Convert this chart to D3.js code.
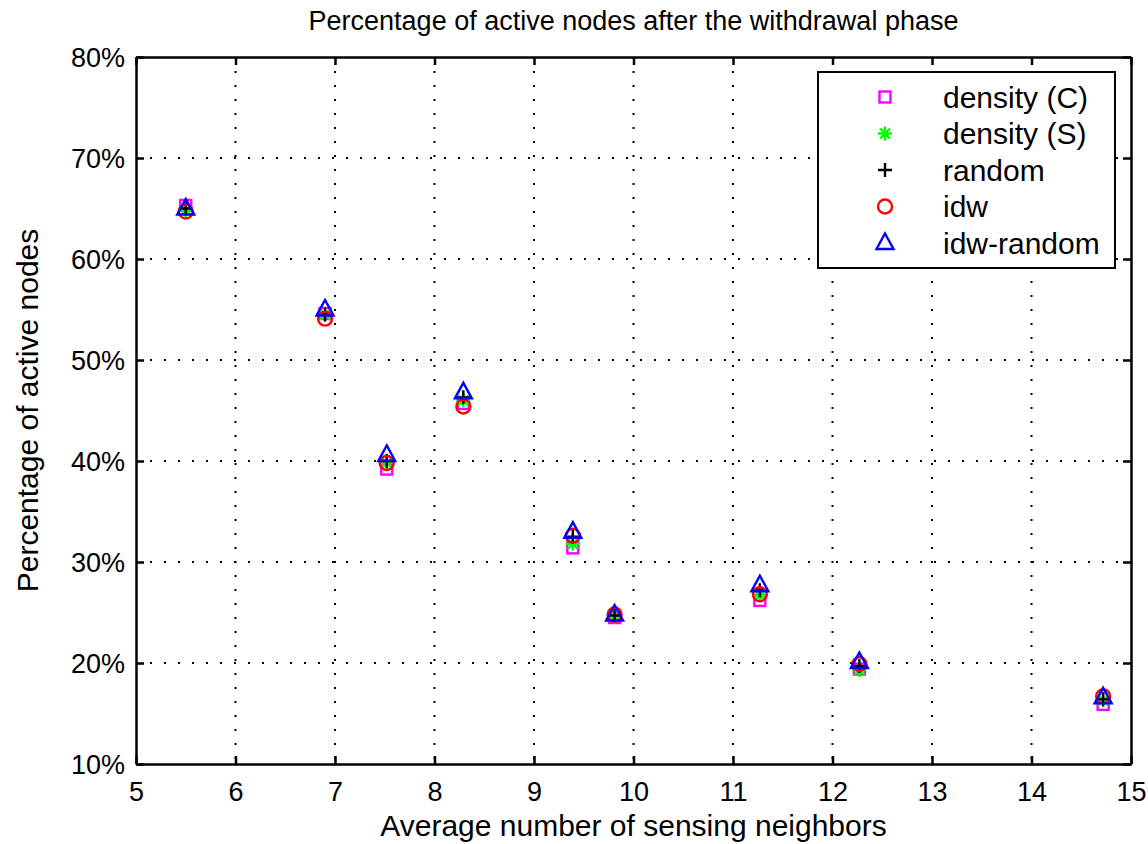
<!DOCTYPE html>
<html><head><meta charset="utf-8">
<script src="https://cdn.jsdelivr.net/npm/d3@7"></script>
<style>body{margin:0;background:#fff}svg{display:block}text{font-family:"Liberation Sans",Arial,sans-serif}</style>
</head><body><svg id="c" width="1148" height="844"></svg>
<script>
const xValues = [5.5, 6.9, 7.52, 8.29, 9.39, 9.81, 11.27, 12.27, 14.72];
const densityC = [65.3, 54.6, 39.2, 45.7, 31.4, 24.5, 26.2, 19.4, 15.9];
const densityS = [64.8, 54.5, 39.8, 46.0, 31.8, 24.6, 26.7, 19.3, 16.3];
const randomV  = [65.0, 54.5, 40.0, 46.3, 32.5, 24.7, 27.2, 19.7, 16.4];
const idw      = [64.7, 54.1, 39.8, 45.4, 32.6, 24.8, 26.8, 19.9, 16.7];
const idwRandom= [65.0, 55.0, 40.6, 46.8, 33.0, 24.8, 27.7, 20.1, 16.6];
const seriesNames = ["density (C)", "density (S)", "random", "idw", "idw-random"];
const xTicks = [5,6,7,8,9,10,11,12,13,14,15];
const yTicks = [10,20,30,40,50,60,70,80];
const title = "Percentage of active nodes after the withdrawal phase";
const xLabel = "Average number of sensing neighbors";
const yLabel = "Percentage of active nodes";

const series = [
  {name: seriesNames[0], values: densityC, shape: "square", color: "#ff00ff"},
  {name: seriesNames[1], values: densityS, shape: "asterisk", color: "#00ff00"},
  {name: seriesNames[2], values: randomV, shape: "plus", color: "#000000"},
  {name: seriesNames[3], values: idw, shape: "circle", color: "#ff0000"},
  {name: seriesNames[4], values: idwRandom, shape: "triangle", color: "#0000ff"}
];

const svg = d3.select("#c");
const L = 136, R = 1131, T = 57, B = 764;
const x = d3.scaleLinear().domain([5,15]).range([L,R]);
const y = d3.scaleLinear().domain([10,80]).range([B,T]);

// grid
const grid = svg.append("g");
xTicks.slice(1,-1).forEach(t => grid.append("line").attr("x1",x(t)).attr("x2",x(t)).attr("y1",T).attr("y2",B)
  .attr("stroke","#000").attr("stroke-width",2).attr("stroke-dasharray","2,12"));
yTicks.slice(1,-1).forEach(t => grid.append("line").attr("x1",L).attr("x2",R).attr("y1",y(t)).attr("y2",y(t))
  .attr("stroke","#000").attr("stroke-width",2).attr("stroke-dasharray","2,12"));

// axes
const fmt = d => d + "%";
const gx = svg.append("g").attr("transform",`translate(0,${B})`)
  .call(d3.axisBottom(x).tickValues(xTicks).tickSize(-8).tickPadding(18).tickSizeOuter(0));
const gxt = svg.append("g").attr("transform",`translate(0,${T})`)
  .call(d3.axisTop(x).tickValues(xTicks).tickSize(-8).tickFormat("").tickSizeOuter(0));
const gy = svg.append("g").attr("transform",`translate(${L},0)`)
  .call(d3.axisLeft(y).tickValues(yTicks).tickFormat(fmt).tickSize(-8).tickPadding(11).tickSizeOuter(0));
const gyr = svg.append("g").attr("transform",`translate(${R},0)`)
  .call(d3.axisRight(y).tickValues(yTicks).tickFormat("").tickSize(-8).tickSizeOuter(0));
[gx,gxt,gy,gyr].forEach(g => {
  g.select(".domain").attr("stroke","#000").attr("stroke-width",2.5);
  g.selectAll(".tick line").attr("stroke","#000").attr("stroke-width",2.5);
  g.selectAll("text").attr("font-size",27).attr("fill","#000").attr("font-family","'Liberation Sans',Arial,sans-serif");
});
gx.selectAll("text").attr("dy","0.71em");
gy.selectAll("text").attr("dy","0.36em");

function drawMarker(g, shape, color, cx, cy) {
  const sw = 2.4;
  if (shape === "square") {
    g.append("rect").attr("x",cx-5.5).attr("y",cy-5.5).attr("width",11).attr("height",11)
      .attr("fill","none").attr("stroke",color).attr("stroke-width",sw);
  } else if (shape === "circle") {
    g.append("circle").attr("cx",cx).attr("cy",cy).attr("r",7)
      .attr("fill","none").attr("stroke",color).attr("stroke-width",sw);
  } else if (shape === "triangle") {
    g.append("path").attr("d",`M${cx},${cy-9.5}L${cx+8.5},${cy+6}L${cx-8.5},${cy+6}Z`)
      .attr("fill","none").attr("stroke",color).attr("stroke-width",sw);
  } else if (shape === "plus") {
    g.append("path").attr("d",`M${cx-7},${cy}H${cx+7}M${cx},${cy-7}V${cy+7}`)
      .attr("stroke",color).attr("stroke-width",sw);
  } else if (shape === "asterisk") {
    const r = 7, d = 5;
    g.append("path").attr("d",`M${cx-r},${cy}H${cx+r}M${cx},${cy-r}V${cy+r}M${cx-d},${cy-d}L${cx+d},${cy+d}M${cx-d},${cy+d}L${cx+d},${cy-d}`)
      .attr("stroke",color).attr("stroke-width",sw);
  }
}

const marks = svg.append("g");
series.forEach(s => {
  const g = marks.append("g");
  s.values.forEach((v,i) => drawMarker(g, s.shape, s.color, x(xValues[i]), y(v)));
});

// legend
const lg = svg.append("g");
lg.append("rect").attr("x",818).attr("y",72).attr("width",297).attr("height",196)
  .attr("fill","#fff").attr("stroke","#000").attr("stroke-width",2);
series.forEach((s,i) => {
  const cy = 97 + i*36.5;
  drawMarker(lg, s.shape, s.color, 885, cy);
  lg.append("text").attr("x",943).attr("y",cy).attr("dy","0.36em").attr("font-size",30).text(s.name);
});

// titles
svg.append("text").attr("x",(L+R)/2).attr("y",20).attr("dy","0.36em").attr("text-anchor","middle")
  .attr("font-size",27).text(title);
svg.append("text").attr("x",(L+R)/2).attr("y",825).attr("dy","0.36em").attr("text-anchor","middle")
  .attr("font-size",30).text(xLabel);
svg.append("text").attr("transform",`translate(27,${(T+B)/2}) rotate(-90)`).attr("dy","0.36em")
  .attr("text-anchor","middle").attr("font-size",30).text(yLabel);
</script></body></html>
